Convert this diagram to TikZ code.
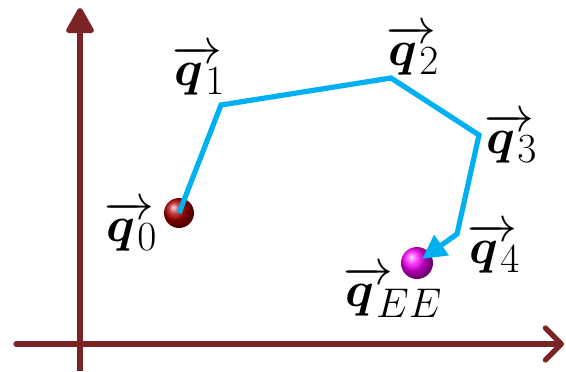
\documentclass[tikz,border=0pt]{standalone}
\usepackage{amsmath,amssymb}
\usepackage{bm}
\usetikzlibrary{arrows.meta}

\definecolor{axisred}{RGB}{122,36,38}
\definecolor{linkblue}{RGB}{0,176,240}
\newcommand{\qv}[1]{$\rlap{\kern-1pt$\overrightarrow{\phantom{\bm{q}}}$}\bm{q}_{\kern2pt#1}$}

\begin{document}
\begin{tikzpicture}[
    x = 0.5pt, y = -0.5pt,
    axis/.style={draw=axisred, line width=2.6pt},
    link/.style={draw=linkblue, line width=2.6pt, line join=miter},
    lbl/.style={inner sep=0pt, font=\fontsize{28}{32}\selectfont},
    redball/.style={circle, minimum size=15pt, inner sep=0pt, ball color=red!70!black},
    eeball/.style={circle, minimum size=16pt, inner sep=0pt, ball color=magenta}
]
    \useasboundingbox (0,0) rectangle (566,371);

    % axes
    \coordinate (o) at (80,344);
    \coordinate (ytip) at (80,8);
    \coordinate (xtip) at (564,344);
    \coordinate (ybot) at (80,371);
    \coordinate (xleft) at (16,344);
    \draw[axis, -{Triangle[round, length=14pt, width=15pt]}] (ybot) -- (ytip);
    \draw[axis, line cap=round, -{Straight Barb[round, length=8pt, width=16pt]}] (xleft) -- (xtip);

    % joints
    \node[redball] (q0) at (179,213) {};
    \coordinate (j1) at (221,105);
    \coordinate (j2) at (391,78);
    \coordinate (j3) at (479,135);
    \coordinate (j4) at (457,234);
    \node[eeball] (ee) at (417,263) {};
    \coordinate (tip) at (422,259);

    \draw[link, -{Triangle[length=12pt, width=12pt]}] (q0.center) -- (j1) -- (j2) -- (j3) -- (j4) -- (tip);

    % labels
    \node[lbl] (lq0) at (132,226) {\qv{0}};
    \node[lbl] (lq1) at (200,70) {\qv{1}};
    \node[lbl] (lq2) at (414,50) {\qv{2}};
    \node[lbl] (lq3) at (512,138) {\qv{3}};
    \node[lbl] (lq4) at (495,248) {\qv{4}};
    \node[lbl] (lqee) at (394,292) {\qv{EE}};
\end{tikzpicture}
\end{document}
